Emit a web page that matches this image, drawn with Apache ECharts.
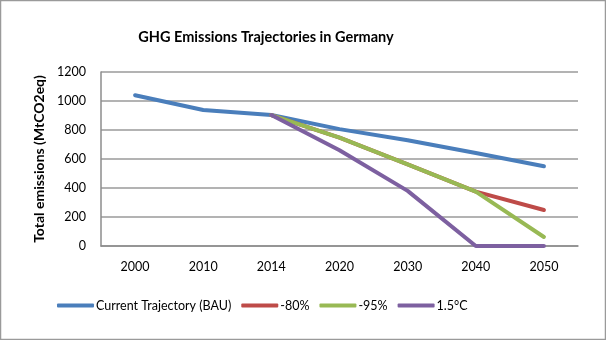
<!DOCTYPE html>
<html><head><meta charset="utf-8">
<script src="https://cdn.jsdelivr.net/npm/echarts@6/dist/echarts.min.js"></script>
<style>html,body{margin:0;padding:0;background:#fff}#c{width:606px;height:340px}</style>
</head><body><div id="c"></div>
<script>
const categories = ['2000','2010','2014','2020','2030','2040','2050'];
const bau = [1040, 938, 903, 806, 729, 641, 550];
const minus80 = ['-', '-', 903, 747, 563, 375, 248];
const minus95 = ['-', '-', 903, 747, 563, 375, 62];
const c15 = ['-', '-', 903, 660, 380, 0, 0];
const yTicks = [0, 200, 400, 600, 800, 1000, 1200];

const FONT = 'Lato, "Open Sans", sans-serif';
const chart = echarts.init(document.getElementById('c'), null, {renderer:'canvas'});
function line(name, data, color){
  return {name, type:'line', data, symbol:'none', smooth:false,
    lineStyle:{width:4, color, cap:'round', join:'round'}, itemStyle:{color},
    connectNulls:false, animation:false};
}
chart.setOption({
  animation:false,
  title:{text:'GHG Emissions Trajectories in Germany', left:261, top:25, textAlign:'center',
    textStyle:{fontFamily:FONT, fontSize:14.5, fontWeight:'bold', color:'#000'}},
  graphic:[{type:'rect', shape:{x:0.5,y:0.5,width:605,height:339}, style:{fill:null, stroke:'#9a9a9a', lineWidth:1.5}, silent:true}],
  grid:{left:101, right:28, top:72, bottom:94},
  legend:{bottom:23, left:52, itemWidth:37, itemHeight:4, itemGap:10, icon:'roundRect',
    textStyle:{fontFamily:FONT, fontSize:12.5, color:'#000', padding:[0,0,0,-3]},
    data:['Current Trajectory (BAU)','-80%','-95%','1.5°C']},
  xAxis:{type:'category', data:categories, boundaryGap:true,
    axisLine:{lineStyle:{color:'#8c8c8c', width:1.5}}, axisTick:{show:false},
    axisLabel:{fontFamily:FONT, fontSize:12.5, color:'#000', margin:14}},
  yAxis:{type:'value', min:yTicks[0], max:yTicks[yTicks.length-1], interval:200,
    name:'Total emissions (MtCO2eq)', nameLocation:'middle', nameGap:50,
    nameTextStyle:{fontFamily:FONT, fontSize:14, fontWeight:'bold', color:'#000'},
    axisLine:{show:true, lineStyle:{color:'#8c8c8c', width:1.5}}, axisTick:{show:false},
    splitLine:{lineStyle:{color:'#9a9a9a', width:1.5}},
    axisLabel:{fontFamily:FONT, fontSize:12.5, color:'#000', margin:15, formatter:v=>String(v)}},
  series:[
    line('Current Trajectory (BAU)', bau, '#4a7ebb'),
    line('-80%', minus80, '#be4b48'),
    line('-95%', minus95, '#98b954'),
    line('1.5°C', c15, '#7d60a0')
  ]
});
</script></body></html>
